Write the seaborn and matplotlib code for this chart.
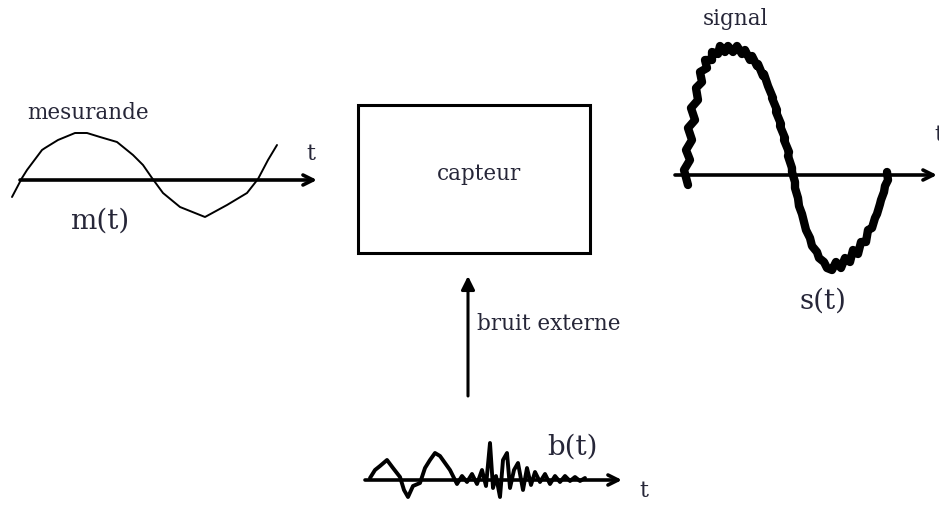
import matplotlib
matplotlib.use("Agg")
import matplotlib.pyplot as plt
import seaborn as sns
from matplotlib.patches import Rectangle

sns.set_theme(style="white")
plt.rcParams['font.family'] = ['DejaVu Serif', 'Liberation Serif']

# ---- data (pixel coordinates) ----
m_x = [12, 22, 27, 33, 42, 45, 58, 75, 87, 100, 117, 133, 143, 152, 163, 180, 205, 227, 247, 258, 268, 277]
m_y = [197, 178, 170, 162, 150, 148, 140, 133, 133, 137, 142, 155, 165, 178, 193, 207, 217, 205, 193, 179, 160, 145]

s_x = [688, 684, 690, 686, 692, 688, 695, 691, 698, 696, 702, 700, 707, 705, 712, 712, 718, 720, 725, 728,
       733, 737, 742, 745, 750, 752, 757, 758, 763, 764, 768, 768, 773, 772, 777, 776, 781, 780, 785, 784,
       789, 788, 792, 792, 795, 795, 798, 799, 802, 804, 806, 810, 812, 817, 819, 824, 827, 832, 836, 841,
       845, 850, 853, 858, 861, 866, 868, 872, 875, 877, 880, 881, 884, 885, 888, 887]
s_y = [185, 170, 160, 150, 140, 128, 120, 108, 100, 88, 82, 72, 68, 60, 60, 52, 54, 46, 52, 46,
       52, 46, 54, 50, 60, 56, 66, 64, 76, 74, 86, 86, 98, 98, 110, 112, 124, 126, 138, 140,
       152, 156, 168, 172, 182, 188, 198, 206, 214, 222, 230, 238, 246, 252, 258, 262, 268, 270, 262, 268,
       258, 262, 250, 254, 242, 242, 230, 228, 218, 214, 204, 200, 192, 186, 180, 172]

b_x = [370, 375, 380, 387, 393, 400, 404, 408, 413, 420, 425, 430, 435, 440, 445, 450, 454, 457, 462, 467,
       472, 477, 482, 486, 490, 493, 496, 500, 503, 507, 510, 514, 518, 523, 527, 531, 535, 540, 545,
       550, 555, 560, 565, 570, 575, 580, 585]
b_y = [478, 470, 466, 460, 468, 477, 490, 497, 486, 483, 468, 460, 453, 456, 463, 470, 478, 484, 476, 482,
       474, 484, 470, 486, 443, 488, 476, 497, 460, 453, 488, 470, 463, 490, 468, 485, 472, 482, 474,
       484, 476, 482, 476, 481, 477, 481, 478]

txt_color = "#262638"
small_fs = 15.5
big_fs = 20
t_fs = 16

fig = plt.figure(figsize=(9.39, 5.08), dpi=100)
ax = fig.add_axes([0, 0, 1, 1])
ax.set_xlim(0, 939)
ax.set_ylim(508, 0)
ax.axis("off")

def arrow(x0, y0, x1, y1, style="->", lw=2.6, ms=18):
    ax.annotate("", xy=(x1, y1), xytext=(x0, y0),
                arrowprops=dict(arrowstyle=style, lw=lw, color="black",
                                mutation_scale=ms, shrinkA=0, shrinkB=0))

# left: mesurande
sns.lineplot(x=m_x, y=m_y, sort=False, estimator=None, color="black", lw=1.4, ax=ax)
arrow(20, 180, 317, 180)
ax.text(88, 113, "mesurande", fontsize=small_fs, color=txt_color, ha="center", va="center")
ax.text(311, 154, "t", fontsize=t_fs, color=txt_color, ha="center", va="center")
ax.text(100, 221, "m(t)", fontsize=big_fs, color=txt_color, ha="center", va="center")

# center box
ax.add_patch(Rectangle((358, 105), 232, 148, fill=False, lw=2.2, ec="black"))
ax.text(479, 174, "capteur", fontsize=small_fs, color=txt_color, ha="center", va="center")

# vertical arrow
arrow(468, 396, 468, 276, style="-|>", lw=2.2, ms=20)
ax.text(477, 324, "bruit externe", fontsize=small_fs, color=txt_color, ha="left", va="center")

# right: signal
sns.lineplot(x=s_x, y=s_y, sort=False, estimator=None, color="black", lw=6, ax=ax)
arrow(675, 175, 937, 175)
ax.text(735, 19, "signal", fontsize=small_fs, color=txt_color, ha="center", va="center")
ax.text(823, 301, "s(t)", fontsize=big_fs, color=txt_color, ha="center", va="center")
ax.text(939, 135, "t", fontsize=t_fs, color=txt_color, ha="center", va="center")

# bottom: noise
sns.lineplot(x=b_x, y=b_y, sort=False, estimator=None, color="black", lw=2.8, ax=ax)
arrow(365, 480, 622, 480)
ax.text(573, 447, "b(t)", fontsize=big_fs, color=txt_color, ha="center", va="center")
ax.text(644, 491, "t", fontsize=t_fs, color=txt_color, ha="center", va="center")

fig.savefig("out.png", dpi=100)
